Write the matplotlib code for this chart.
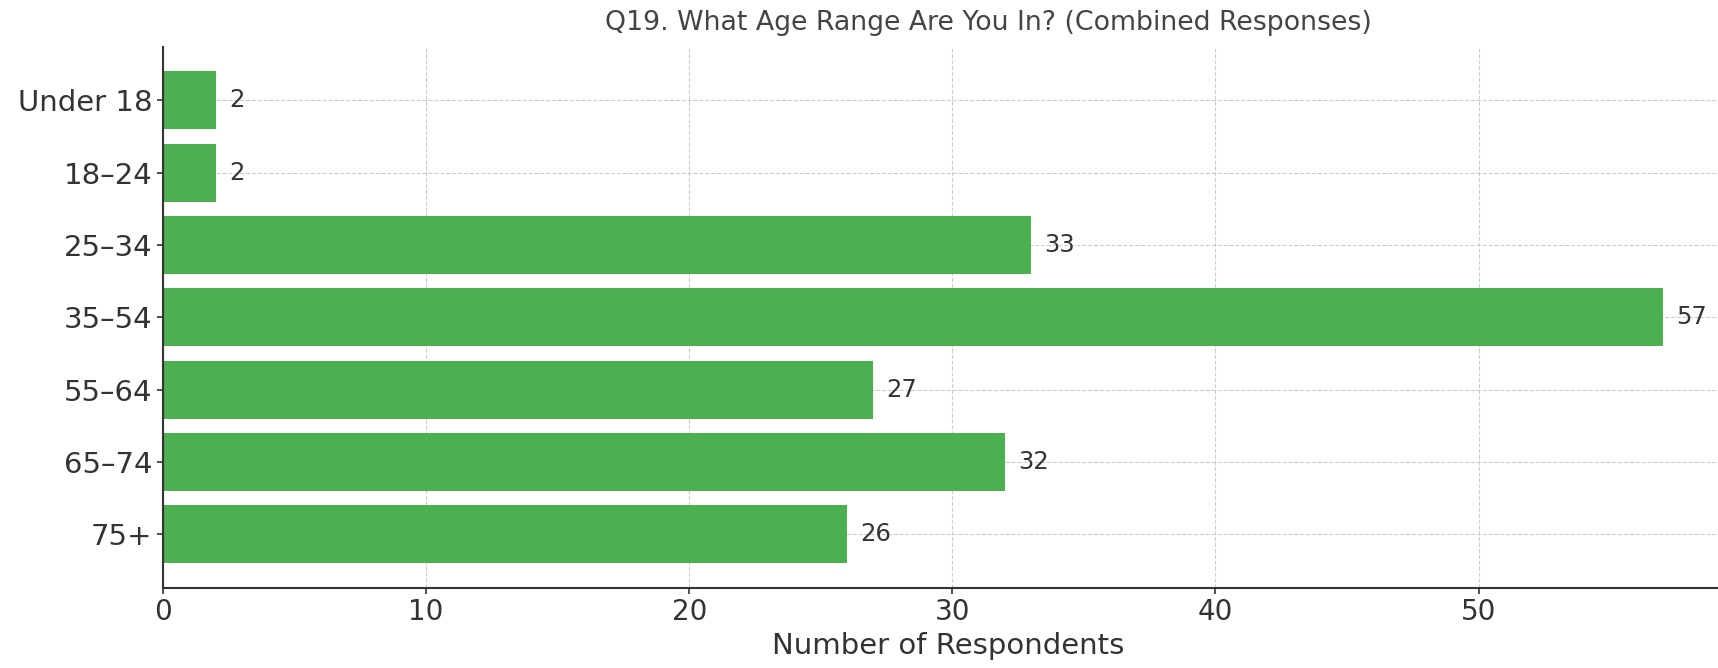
import matplotlib

matplotlib.use("Agg")
import matplotlib.pyplot as plt

categories = ["Under 18", "18–24", "25–34", "35–54", "55–64", "65–74", "75+"]
counts = [2, 2, 33, 57, 27, 32, 26]

TEXT = "#333333"
BAR = "#4caf50"

plt.rcParams.update({
    "font.family": "DejaVu Sans",
    "text.color": TEXT,
    "axes.labelcolor": TEXT,
    "xtick.color": TEXT,
    "ytick.color": TEXT,
})

fig = plt.figure(figsize=(17.18, 6.68), dpi=100)
ax = fig.add_axes([0.0949, 0.1198, 0.9051, 0.8102])

ax.barh(categories, counts, height=0.8, color=BAR, zorder=2)
ax.invert_yaxis()
ax.set_xlim(0, 59.1)

for i, v in enumerate(counts):
    ax.text(v + 0.5, i, str(v), va="center", ha="left", fontsize=17.5, color=TEXT)

# the source image is cropped on the right, so the title sits right of centre
ax.set_title("Q19. What Age Range Are You In? (Combined Responses)",
             fontsize=19.3, color="#444444", pad=12, x=0.531)
ax.set_xlabel("Number of Respondents", fontsize=21, labelpad=4, x=0.505)
ax.tick_params(axis="y", labelsize=21, length=4, width=1.2)
ax.tick_params(axis="x", labelsize=20, length=4, width=1.2)
ax.grid(True, linestyle="--", linewidth=0.8, color="#cccccc", zorder=0)
ax.set_axisbelow(True)
for side in ("top", "right"):
    ax.spines[side].set_visible(False)
for side in ("left", "bottom"):
    ax.spines[side].set_linewidth(1.5)
    ax.spines[side].set_color("#333333")

fig.savefig("out.png", dpi=100)
